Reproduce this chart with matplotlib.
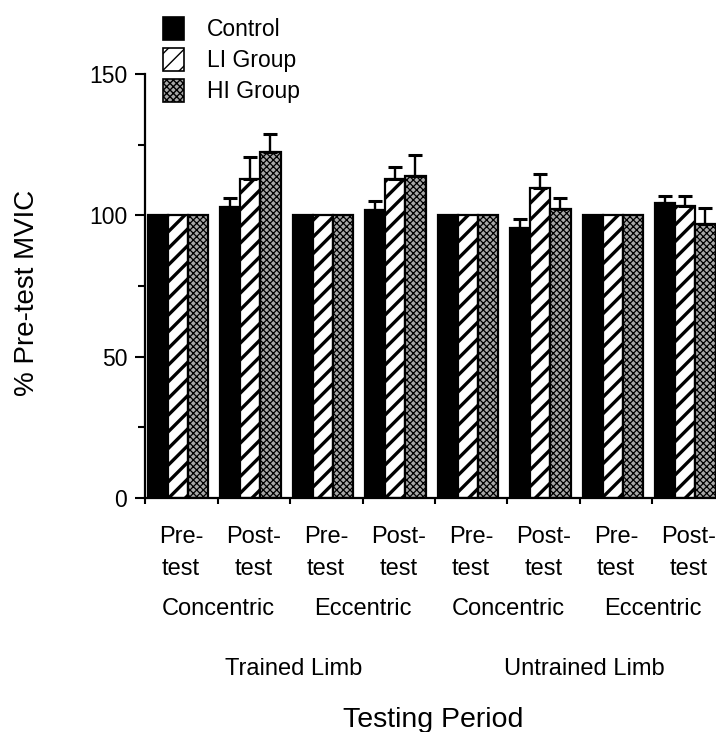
import numpy as np
import matplotlib
matplotlib.use("Agg")
import matplotlib.pyplot as plt
from matplotlib.patches import Patch
from matplotlib.transforms import blended_transform_factory
from matplotlib.ticker import FixedLocator

plt.rcParams['font.family'] = ['Liberation Sans', 'DejaVu Sans']

# ---------------- data ----------------
periods = ["Pre-\ntest", "Post-\ntest"] * 4
contractions = ["Concentric", "Eccentric", "Concentric", "Eccentric"]
limbs = ["Trained Limb", "Untrained Limb"]
series = ["Control", "LI Group", "HI Group"]

control = [100, 102.9, 100, 101.8, 100, 95.4, 100, 104.5]
control_err = [0, 3.3, 0, 3.4, 0, 3.2, 0, 2.3]
li = [100, 113.0, 100, 112.8, 100, 109.6, 100, 103.4]
li_err = [0, 7.6, 0, 4.2, 0, 4.9, 0, 3.4]
hi = [100, 122.3, 100, 113.8, 100, 102.1, 100, 96.8]
hi_err = [0, 6.6, 0, 7.6, 0, 3.9, 0, 5.7]

y_major = [0, 50, 100, 150]
y_minor = [25, 75, 125]

# ---------------- figure ----------------
W, H = 716, 732
fig = plt.figure(figsize=(W / 100, H / 100), dpi=100)

def fy(px):
    return 1 - px / H

ax_left, ax_right = 145, 725
ax_top, ax_bottom = 74, 498
ax = fig.add_axes([ax_left / W, fy(ax_bottom), (ax_right - ax_left) / W, (ax_bottom - ax_top) / H])

x = np.arange(len(periods))
w = 0.276
styles = [
    dict(facecolor="black", hatch=None, hlw=1.0),
    dict(facecolor="white", hatch="//", hlw=2.4),
    dict(facecolor="#a8a8a8", hatch="xxxxx", hlw=0.9),
]
vals = [control, li, hi]
errs = [control_err, li_err, hi_err]

handles = []
for k, (v, e, st) in enumerate(zip(vals, errs, styles)):
    with plt.rc_context({'hatch.linewidth': st['hlw'], 'hatch.color': 'black'}):
        bars = ax.bar(x + (k - 1) * w, v, width=w, facecolor=st['facecolor'],
                      edgecolor="black", linewidth=1.6, hatch=st['hatch'], zorder=2)
        for b in bars:
            if hasattr(b, "set_hatch_linewidth"):
                b.set_hatch_linewidth(st['hlw'])
        ev = np.array(e, dtype=float)
        mask = ev > 0
        ax.errorbar((x + (k - 1) * w)[mask], np.array(v)[mask],
                    yerr=[np.zeros(mask.sum()), ev[mask]], fmt="none",
                    ecolor="black", elinewidth=1.7, capsize=4.8, capthick=2.2, zorder=3)
        hp = Patch(facecolor=st['facecolor'], edgecolor="black", linewidth=1.2,
                   hatch=st['hatch'], label=series[k])
        if hasattr(hp, "set_hatch_linewidth"):
            hp.set_hatch_linewidth(min(st['hlw'], 1.8))
        handles.append(hp)

# axes limits and spines
ax.set_xlim(-0.455, len(periods) - 0.455)
ax.set_ylim(0, 150)
for s in ["top", "right"]:
    ax.spines[s].set_visible(False)
ax.spines["left"].set_linewidth(1.6)
ax.spines["bottom"].set_linewidth(1.6)

ax.set_yticks(y_major)
ax.set_yticklabels([str(t) for t in y_major], fontsize=16.5)
ax.yaxis.set_minor_locator(FixedLocator(y_minor))
ax.tick_params(axis="y", which="major", direction="out", length=7.2, width=1.5, pad=5.5)
ax.tick_params(axis="y", which="minor", direction="out", length=5.0, width=1.5)

ax.set_xticks([])
ax.xaxis.set_minor_locator(FixedLocator(list(np.arange(len(periods) + 1) - 0.455)))
ax.tick_params(axis="x", which="minor", direction="out", length=4.5, width=1.5)
ax.tick_params(axis="x", which="major", length=0)

# category labels below axis
tr = blended_transform_factory(ax.transData, fig.transFigure)
for i, p in enumerate(periods):
    top, bot = p.split("\n")
    ax.text(i + 0.04, fy(543), top, transform=tr, ha="center", va="baseline", fontsize=17)
    ax.text(i + 0.04, fy(575), bot, transform=tr, ha="center", va="baseline", fontsize=17)
for j, c in enumerate(contractions):
    ax.text(2 * j + 0.55, fy(615), c, transform=tr, ha="center", va="baseline", fontsize=17)
for j, l in enumerate(limbs):
    ax.text(4 * j + 1.6, fy(675), l, transform=tr, ha="center", va="baseline", fontsize=17)

fig.text(433 / W, fy(727), "Testing Period", ha="center", va="baseline", fontsize=20.5)
fig.text(27 / W, fy(293), "% Pre-test MVIC", ha="center", va="center", rotation=90, fontsize=20)

fig.legend(handles=handles, loc="upper left", bbox_to_anchor=(163 / W, fy(17)),
           frameon=False, fontsize=16.5, handlelength=0.9, handleheight=1.15,
           handletextpad=1.0, labelspacing=0.3, borderpad=0, borderaxespad=0)

fig.savefig("out.png", dpi=100)
